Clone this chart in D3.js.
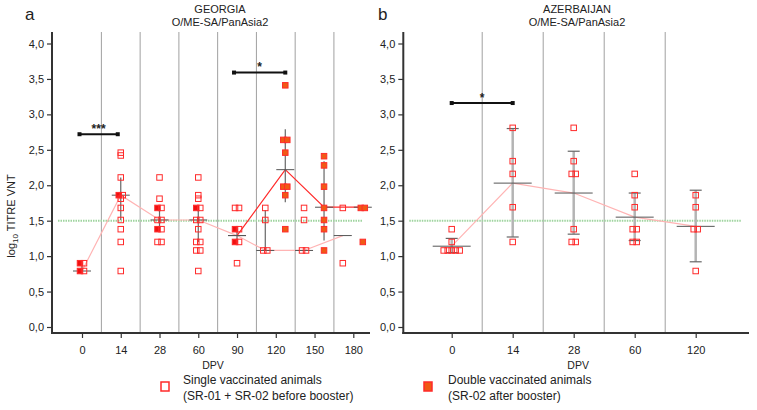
<!DOCTYPE html>
<html>
<head>
<meta charset="utf-8">
<script src="https://cdn.jsdelivr.net/npm/d3@7"></script>
<style>
  body { margin: 0; background: #fff; }
  text { font-family: "Liberation Sans", Arial, sans-serif; fill: #222; }
</style>
</head>
<body>
<script>
// ---- data ----
// panel a: Georgia
var daysA = [0, 14, 28, 60, 90, 120, 150, 180]
var lateDaysA = [120, 150, 180]
// [day, log10 titre, type]  type: open = single, red = filled before booster, orange = double
var pointsA = [
  [0, 0.9, "red"], [0, 0.9, "open"], [0, 0.79, "red"], [0, 0.79, "open"],
  [14, 2.46, "open"], [14, 2.42, "open"], [14, 2.11, "open"], [14, 1.86, "red"], [14, 1.86, "open"],
  [14, 1.81, "open"], [14, 1.68, "open"], [14, 1.51, "open"], [14, 1.38, "open"], [14, 1.2, "open"], [14, 0.79, "open"],
  [28, 2.11, "open"], [28, 1.81, "open"], [28, 1.68, "red"], [28, 1.68, "open"], [28, 1.51, "open"], [28, 1.51, "open"],
  [28, 1.38, "red"], [28, 1.38, "open"], [28, 1.2, "open"], [28, 1.2, "open"],
  [60, 2.11, "open"], [60, 1.86, "open"], [60, 1.81, "open"], [60, 1.68, "red"], [60, 1.68, "open"], [60, 1.51, "open"],
  [60, 1.51, "open"], [60, 1.38, "open"], [60, 1.2, "open"], [60, 1.2, "open"], [60, 1.08, "open"], [60, 1.08, "open"], [60, 0.79, "open"],
  [90, 1.68, "open"], [90, 1.68, "open"], [90, 1.38, "red"], [90, 1.38, "open"], [90, 1.2, "red"], [90, 1.2, "open"], [90, 0.9, "open"],
  [120, 1.68, "open"], [120, 1.51, "open"], [120, 1.08, "open"], [120, 1.08, "open"],
  [120, 3.41, "orange"], [120, 2.64, "orange"], [120, 2.64, "orange"], [120, 2.46, "orange"], [120, 1.98, "orange"],
  [120, 1.98, "orange"], [120, 1.86, "orange"], [120, 1.38, "orange"],
  [150, 1.68, "open"], [150, 1.51, "open"], [150, 1.08, "open"], [150, 1.08, "open"],
  [150, 2.41, "orange"], [150, 2.28, "orange"], [150, 1.98, "orange"], [150, 1.68, "orange"], [150, 1.51, "orange"],
  [150, 1.38, "orange"], [150, 1.08, "orange"],
  [180, 1.68, "open"], [180, 0.9, "open"],
  [180, 1.68, "orange"], [180, 1.68, "orange"], [180, 1.2, "orange"]
]
// group summaries: [day, mean, low, high]  (null = no error bar)
var singleA = [[0, 0.79, 0.79, 0.9], [14, 1.86, 1.51, 2.11], [28, 1.51, 1.38, 1.68], [60, 1.51, 1.2, 1.68],
  [90, 1.29, 1.2, 1.38], [120, 1.08, 1.08, 1.65], [150, 1.08, null, null], [180, 1.29, null, null]]
var doubleA = [[90, 1.29, null, null], [120, 2.22, 1.76, 2.79], [150, 1.69, 1.22, 2.34], [180, 1.69, null, null]]

// panel b: Azerbaijan
var daysB = [0, 14, 28, 60, 120]
var pointsB = [
  [0, 1.38, "open"], [0, 1.2, "open"], [0, 1.08, "open"], [0, 1.08, "open"], [0, 1.08, "open"], [0, 1.08, "open"], [0, 1.08, "open"],
  [14, 2.81, "open"], [14, 2.34, "open"], [14, 2.16, "open"], [14, 1.69, "open"], [14, 1.2, "open"],
  [28, 2.81, "open"], [28, 2.34, "open"], [28, 2.16, "open"], [28, 2.16, "open"], [28, 1.38, "open"], [28, 1.2, "open"], [28, 1.2, "open"],
  [60, 2.16, "open"], [60, 1.86, "open"], [60, 1.69, "open"], [60, 1.38, "open"], [60, 1.38, "open"], [60, 1.2, "open"], [60, 1.2, "open"],
  [120, 1.86, "open"], [120, 1.69, "open"], [120, 1.38, "open"], [120, 1.38, "open"], [120, 0.79, "open"]
]
var singleB = [[0, 1.14, 1.05, 1.25], [14, 2.03, 1.27, 2.8], [28, 1.89, 1.31, 2.48], [60, 1.55, 1.22, 1.89], [120, 1.42, 0.92, 1.93]]

var yTicks = [0, 0.5, 1, 1.5, 2, 2.5, 3, 3.5, 4]
var threshold = 1.5

var svg = d3.select("body").append("svg").attr("width", 757).attr("height", 410)

var y = d3.scaleLinear().domain([0, 4]).range([327, 43.5])
var fmt = function(d) { return d3.format(".1f")(d).replace(".", ",") }

var xA = d3.scalePoint().domain(daysA).range([82, 353.3])
var xB = d3.scalePoint().domain(daysB).range([451.7, 695.7])

function drawFrame(x, days, left, right, title, letter, letterX, titleX) {
  var g = svg.append("g")
  // vertical separators between days
  for (var i = 0; i < days.length - 1; i++) {
    var mx = (x(days[i]) + x(days[i + 1])) / 2
    g.append("line").attr("x1", mx).attr("x2", mx).attr("y1", 32).attr("y2", 333)
      .attr("stroke", "#a0a0a0").attr("stroke-width", 1)
  }
  // threshold
  g.append("line").attr("x1", left + 6).attr("x2", right - 8).attr("y1", y(threshold)).attr("y2", y(threshold))
    .attr("stroke", "#9fd49f").attr("stroke-width", 2).attr("stroke-dasharray", "1.5,1")

  var ya = g.append("g").attr("transform", "translate(" + left + ",0)")
    .call(d3.axisLeft(y).tickValues(yTicks).tickFormat(fmt).tickSize(5).tickSizeOuter(0))
  ya.select(".domain").remove()
  ya.selectAll("line").attr("stroke", "#333").attr("stroke-width", 1.2)
  ya.selectAll("text").attr("font-size", 11).attr("fill", "#333").attr("font-family", "Liberation Sans, Arial, sans-serif")
  g.append("line").attr("x1", left).attr("x2", left).attr("y1", 32).attr("y2", 334)
    .attr("stroke", "#333").attr("stroke-width", 2)

  var xa = g.append("g").attr("transform", "translate(0,333)")
    .call(d3.axisBottom(x).tickSize(5).tickSizeOuter(0).tickPadding(8))
  xa.select(".domain").remove()
  xa.selectAll("line").attr("stroke", "#333").attr("stroke-width", 1.2)
  xa.selectAll("text").attr("font-size", 11).attr("fill", "#333").attr("font-family", "Liberation Sans, Arial, sans-serif")
  g.append("line").attr("x1", left - 1).attr("x2", right).attr("y1", 333).attr("y2", 333)
    .attr("stroke", "#333").attr("stroke-width", 2)

  g.append("text").attr("x", (left + right) / 2 + 2).attr("y", 369).attr("text-anchor", "middle")
    .attr("font-size", 10.5).text("DPV")
  g.append("text").attr("x", titleX).attr("y", 13).attr("text-anchor", "middle").attr("font-size", 11).text(title)
  g.append("text").attr("x", titleX).attr("y", 26).attr("text-anchor", "middle").attr("font-size", 11).text("O/ME-SA/PanAsia2")
  g.append("text").attr("x", letterX).attr("y", 20).attr("font-size", 17).text(letter)
}

drawFrame(xA, daysA, 52, 370, "GEORGIA", "a", 25, 220)
drawFrame(xB, daysB, 403.3, 749, "AZERBAIJAN", "b", 378, 577)

// y label
var yl = svg.append("text").attr("transform", "translate(15,216) rotate(-90)").attr("text-anchor", "middle")
  .attr("font-size", 11)
yl.append("tspan").text("log")
yl.append("tspan").attr("font-size", 8).attr("dy", 3).text("10")
yl.append("tspan").attr("dy", -3).text(" TITRE VNT")

function colOffset(day, type, late) {
  if (late.indexOf(day) < 0) return 0
  return type === "orange" ? 9.5 : -10.5
}

function drawStats(x, stats, late, type, lineColor, meanHalf, capHalf, barColor, barWidth) {
  var g = svg.append("g")
  var pos = function(d) { return x(d[0]) + colOffset(d[0], type, late) }
  var line = d3.line().x(pos).y(function(d) { return y(d[1]) })
  g.append("path").attr("d", line(stats)).attr("fill", "none").attr("stroke", lineColor).attr("stroke-width", 1.2)
  stats.forEach(function(d) {
    var cx = pos(d)
    if (d[2] !== null) {
      g.append("line").attr("x1", cx).attr("x2", cx).attr("y1", y(d[2])).attr("y2", y(d[3]))
        .attr("stroke", barColor).attr("stroke-width", barWidth)
      if (capHalf > 0) {
        [d[2], d[3]].forEach(function(v) {
          g.append("line").attr("x1", cx - capHalf).attr("x2", cx + capHalf).attr("y1", y(v)).attr("y2", y(v))
            .attr("stroke", "#666").attr("stroke-width", 1.2)
        })
      }
    }
    g.append("line").attr("x1", cx - meanHalf).attr("x2", cx + meanHalf).attr("y1", y(d[1])).attr("y2", y(d[1]))
      .attr("stroke", "#555").attr("stroke-width", 1)
  })
}

function drawPoints(x, pts, late) {
  var groups = {}
  pts.forEach(function(p) {
    var key = p[0] + "|" + (p[2] === "orange" ? "b" : "a") + "|" + p[1]
    ;(groups[key] = groups[key] || []).push(p)
  })
  var placed = []
  Object.keys(groups).forEach(function(k) {
    var arr = groups[k]
    arr.forEach(function(p, i) {
      placed.push({ x: x(p[0]) + colOffset(p[0], p[2], late) + (i - (arr.length - 1) / 2) * 4, v: p[1], type: p[2] })
    })
  })
  var s = 5.5
  svg.append("g").selectAll("rect").data(placed).join("rect")
    .attr("x", function(d) { return d.x - s / 2 })
    .attr("y", function(d) { return y(d.v) - s / 2 })
    .attr("width", s).attr("height", s)
    .attr("fill", function(d) { return d.type === "open" ? "none" : d.type === "red" ? "#f01010" : "#f05a14" })
    .attr("stroke", "#ff2a2a").attr("stroke-width", 1)
}

drawStats(xA, singleA, lateDaysA, "open", "#ffb4b4", 9, 0, "#666", 1.2)
drawStats(xA, doubleA, lateDaysA, "orange", "#ff2a2a", 9, 0, "#666", 1.2)
drawPoints(xA, pointsA, lateDaysA)

drawStats(xB, singleB, [], "open", "#ffb4b4", 19, 6, "#b4b4b4", 2.5)
drawPoints(xB, pointsB, [])

// significance brackets
function bracket(x1, x2, v, label) {
  var g = svg.append("g")
  g.append("line").attr("x1", x1).attr("x2", x2).attr("y1", y(v)).attr("y2", y(v)).attr("stroke", "#111").attr("stroke-width", 2)
  ;[x1, x2].forEach(function(px) {
    g.append("rect").attr("x", px - 2).attr("y", y(v) - 2).attr("width", 4).attr("height", 4).attr("fill", "#111")
  })
  g.append("text").attr("x", (x1 + x2) / 2).attr("y", y(v) - 1.5).attr("text-anchor", "middle")
    .attr("font-size", 12).attr("font-weight", "bold").text(label)
}
bracket(xA(0) - 2.5, xA(14) - 3, 2.72, "***")
bracket(xA(90) - 3, xA(120) + 9.5, 3.59, "*")
bracket(xB(0), xB(14), 3.16, "*")

// legend
var lg = svg.append("g")
lg.append("rect").attr("x", 161).attr("y", 382).attr("width", 8).attr("height", 9)
  .attr("fill", "#fff").attr("stroke", "#ff2a2a").attr("stroke-width", 1.5)
lg.append("text").attr("x", 183).attr("y", 384).attr("font-size", 12).text("Single vaccinated animals")
lg.append("text").attr("x", 183).attr("y", 400).attr("font-size", 12).text("(SR-01 + SR-02 before booster)")
lg.append("rect").attr("x", 424).attr("y", 382).attr("width", 8).attr("height", 9)
  .attr("fill", "#f05a14").attr("stroke", "#ff2a2a").attr("stroke-width", 1.5)
lg.append("text").attr("x", 448).attr("y", 384).attr("font-size", 12).text("Double vaccinated animals")
lg.append("text").attr("x", 448).attr("y", 400).attr("font-size", 12).text("(SR-02 after booster)")
</script>
</body>
</html>
